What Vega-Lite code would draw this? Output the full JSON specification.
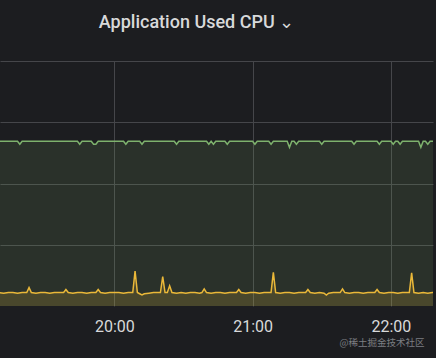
{
  "$schema": "https://vega.github.io/schema/vega-lite/v6.json",
  "width": 433,
  "height": 245,
  "autosize": "none",
  "padding": {"left": 0, "top": 61, "right": 3, "bottom": 52},
  "background": "#1c1d20",
  "config": {"view": {"stroke": null}},
  "title": {
    "text": "Application Used CPU ⌄",
    "anchor": "middle",
    "frame": "group",
    "dx": -20,
    "offset": 15,
    "baseline": "alphabetic",
    "font": "Roboto",
    "fontSize": 18,
    "fontWeight": 500,
    "color": "#d8d9da"
  },
  "encoding": {
    "x": {
      "field": "t",
      "type": "temporal",
      "scale": {
        "type": "utc",
        "domain": [
          {"year": 1900, "month": 1, "date": 1, "hours": 19, "minutes": 10, "seconds": 24, "utc": true},
          {"year": 1900, "month": 1, "date": 1, "hours": 22, "minutes": 18, "seconds": 16, "utc": true}
        ]
      },
      "axis": {
        "values": [
          {"year": 1900, "month": 1, "date": 1, "hours": 20, "utc": true},
          {"year": 1900, "month": 1, "date": 1, "hours": 21, "utc": true},
          {"year": 1900, "month": 1, "date": 1, "hours": 22, "utc": true}
        ],
        "format": "%H:%M",
        "domain": false,
        "ticks": false,
        "grid": true,
        "gridColor": "#45464a",
        "gridWidth": 1,
        "labelColor": "#d8d9da",
        "labelFont": "Roboto",
        "labelFontSize": 16,
        "labelBaseline": "alphabetic",
        "labelPadding": 25,
        "labelFlush": false,
        "title": "@稀土掘金技术社区",
        "titleFont": "Noto Sans CJK SC",
        "titleFontSize": 9.5,
        "titleFontWeight": "normal",
        "titleColor": "#7d7f83",
        "titleAlign": "right",
        "titleBaseline": "alphabetic",
        "titleX": 424,
        "titleY": 39
      }
    },
    "y": {
      "field": "v",
      "type": "quantitative",
      "scale": {"domain": [0, 4], "nice": false, "zero": true},
      "axis": {
        "values": [1, 2, 3, 4],
        "labels": false,
        "ticks": false,
        "domain": false,
        "grid": true,
        "gridColor": "#45464a",
        "gridWidth": 1,
        "title": null
      }
    }
  },
  "layer": [
    {
      "data": {
        "values": [
          {"t": "19:10", "v": 2.69}, {"t": "19:18", "v": 2.69}, {"t": "19:19", "v": 2.64}, {"t": "19:20", "v": 2.69},
          {"t": "19:44", "v": 2.69}, {"t": "19:45", "v": 2.64}, {"t": "19:46", "v": 2.69},
          {"t": "19:50", "v": 2.69}, {"t": "19:51", "v": 2.64}, {"t": "19:52", "v": 2.64}, {"t": "19:53", "v": 2.69},
          {"t": "20:04", "v": 2.69}, {"t": "20:05", "v": 2.64}, {"t": "20:06", "v": 2.69},
          {"t": "20:11", "v": 2.69}, {"t": "20:12", "v": 2.64}, {"t": "20:13", "v": 2.69},
          {"t": "20:26", "v": 2.69}, {"t": "20:27", "v": 2.64}, {"t": "20:28", "v": 2.69},
          {"t": "20:40", "v": 2.69}, {"t": "20:41", "v": 2.64}, {"t": "20:42", "v": 2.69}, {"t": "20:43", "v": 2.64}, {"t": "20:44", "v": 2.69},
          {"t": "20:48", "v": 2.69}, {"t": "20:49", "v": 2.64}, {"t": "20:50", "v": 2.69},
          {"t": "21:00", "v": 2.69}, {"t": "21:01", "v": 2.64}, {"t": "21:02", "v": 2.69},
          {"t": "21:07", "v": 2.69}, {"t": "21:08", "v": 2.64}, {"t": "21:09", "v": 2.69},
          {"t": "21:15", "v": 2.69}, {"t": "21:16", "v": 2.59}, {"t": "21:17", "v": 2.69},
          {"t": "21:18", "v": 2.69}, {"t": "21:19", "v": 2.64}, {"t": "21:20", "v": 2.69},
          {"t": "21:29", "v": 2.69}, {"t": "21:30", "v": 2.64}, {"t": "21:31", "v": 2.69},
          {"t": "21:43", "v": 2.69}, {"t": "21:44", "v": 2.64}, {"t": "21:45", "v": 2.69},
          {"t": "21:54", "v": 2.69}, {"t": "21:55", "v": 2.64}, {"t": "21:56", "v": 2.69},
          {"t": "22:00", "v": 2.69}, {"t": "22:01", "v": 2.64}, {"t": "22:02", "v": 2.69},
          {"t": "22:03", "v": 2.69}, {"t": "22:04", "v": 2.64}, {"t": "22:05", "v": 2.69},
          {"t": "22:12", "v": 2.69}, {"t": "22:13", "v": 2.59}, {"t": "22:14", "v": 2.69},
          {"t": "22:15", "v": 2.69}, {"t": "22:16", "v": 2.64}, {"t": "22:17", "v": 2.69}, {"t": "22:19", "v": 2.69}
        ],
        "format": {"parse": {"t": "utc:'%H:%M'"}}
      },
      "layer": [
        {"mark": {"type": "area", "color": "#7eb26d", "fillOpacity": 0.14, "clip": true}},
        {"mark": {"type": "line", "color": "#7eb26d", "strokeWidth": 1.5, "clip": true}}
      ]
    },
    {
      "data": {
        "values": [
          {"t": "19:10", "v": 0.22}, {"t": "19:12", "v": 0.21}, {"t": "19:14", "v": 0.22}, {"t": "19:16", "v": 0.22},
          {"t": "19:18", "v": 0.21}, {"t": "19:20", "v": 0.22}, {"t": "19:22", "v": 0.22}, {"t": "19:23", "v": 0.30},
          {"t": "19:24", "v": 0.22}, {"t": "19:26", "v": 0.21}, {"t": "19:28", "v": 0.22}, {"t": "19:30", "v": 0.22},
          {"t": "19:32", "v": 0.21}, {"t": "19:34", "v": 0.22}, {"t": "19:36", "v": 0.22}, {"t": "19:38", "v": 0.22},
          {"t": "19:39", "v": 0.27}, {"t": "19:40", "v": 0.22}, {"t": "19:42", "v": 0.21}, {"t": "19:44", "v": 0.22},
          {"t": "19:46", "v": 0.22}, {"t": "19:48", "v": 0.21}, {"t": "19:50", "v": 0.22}, {"t": "19:52", "v": 0.22},
          {"t": "19:53", "v": 0.27}, {"t": "19:54", "v": 0.22}, {"t": "19:56", "v": 0.21}, {"t": "19:58", "v": 0.22},
          {"t": "20:00", "v": 0.22}, {"t": "20:02", "v": 0.22}, {"t": "20:04", "v": 0.21}, {"t": "20:06", "v": 0.22},
          {"t": "20:08", "v": 0.22}, {"t": "20:09", "v": 0.57}, {"t": "20:10", "v": 0.22}, {"t": "20:11", "v": 0.20},
          {"t": "20:12", "v": 0.18}, {"t": "20:13", "v": 0.20}, {"t": "20:15", "v": 0.21}, {"t": "20:17", "v": 0.22},
          {"t": "20:19", "v": 0.22}, {"t": "20:20", "v": 0.22}, {"t": "20:21", "v": 0.48}, {"t": "20:22", "v": 0.22},
          {"t": "20:23", "v": 0.22}, {"t": "20:24", "v": 0.33}, {"t": "20:25", "v": 0.22}, {"t": "20:27", "v": 0.21},
          {"t": "20:29", "v": 0.22}, {"t": "20:31", "v": 0.21}, {"t": "20:33", "v": 0.22}, {"t": "20:35", "v": 0.22},
          {"t": "20:37", "v": 0.21}, {"t": "20:38", "v": 0.22}, {"t": "20:39", "v": 0.28}, {"t": "20:40", "v": 0.22},
          {"t": "20:42", "v": 0.21}, {"t": "20:44", "v": 0.22}, {"t": "20:46", "v": 0.22}, {"t": "20:48", "v": 0.21},
          {"t": "20:50", "v": 0.22}, {"t": "20:52", "v": 0.22}, {"t": "20:53", "v": 0.22}, {"t": "20:54", "v": 0.27},
          {"t": "20:55", "v": 0.22}, {"t": "20:57", "v": 0.21}, {"t": "20:59", "v": 0.22}, {"t": "21:01", "v": 0.22},
          {"t": "21:03", "v": 0.21}, {"t": "21:05", "v": 0.22}, {"t": "21:07", "v": 0.22}, {"t": "21:08", "v": 0.22},
          {"t": "21:09", "v": 0.55}, {"t": "21:10", "v": 0.22}, {"t": "21:12", "v": 0.21}, {"t": "21:14", "v": 0.22},
          {"t": "21:16", "v": 0.22}, {"t": "21:18", "v": 0.21}, {"t": "21:20", "v": 0.22}, {"t": "21:22", "v": 0.22},
          {"t": "21:23", "v": 0.22}, {"t": "21:24", "v": 0.27}, {"t": "21:25", "v": 0.22}, {"t": "21:27", "v": 0.21},
          {"t": "21:29", "v": 0.22}, {"t": "21:31", "v": 0.21}, {"t": "21:32", "v": 0.18}, {"t": "21:33", "v": 0.21},
          {"t": "21:35", "v": 0.22}, {"t": "21:37", "v": 0.22}, {"t": "21:38", "v": 0.22}, {"t": "21:39", "v": 0.28},
          {"t": "21:40", "v": 0.22}, {"t": "21:42", "v": 0.21}, {"t": "21:44", "v": 0.22}, {"t": "21:46", "v": 0.22},
          {"t": "21:48", "v": 0.21}, {"t": "21:50", "v": 0.22}, {"t": "21:52", "v": 0.22}, {"t": "21:53", "v": 0.22},
          {"t": "21:54", "v": 0.27}, {"t": "21:55", "v": 0.22}, {"t": "21:57", "v": 0.21}, {"t": "21:59", "v": 0.22},
          {"t": "22:01", "v": 0.22}, {"t": "22:03", "v": 0.21}, {"t": "22:05", "v": 0.22}, {"t": "22:07", "v": 0.22},
          {"t": "22:08", "v": 0.22}, {"t": "22:09", "v": 0.54}, {"t": "22:10", "v": 0.22}, {"t": "22:12", "v": 0.21},
          {"t": "22:14", "v": 0.22}, {"t": "22:16", "v": 0.21}, {"t": "22:18", "v": 0.22}, {"t": "22:19", "v": 0.22}
        ],
        "format": {"parse": {"t": "utc:'%H:%M'"}}
      },
      "layer": [
        {"mark": {"type": "area", "color": "#eab839", "fillOpacity": 0.16, "clip": true}},
        {"mark": {"type": "line", "color": "#eab839", "strokeWidth": 1.5, "clip": true}}
      ]
    }
  ]
}
